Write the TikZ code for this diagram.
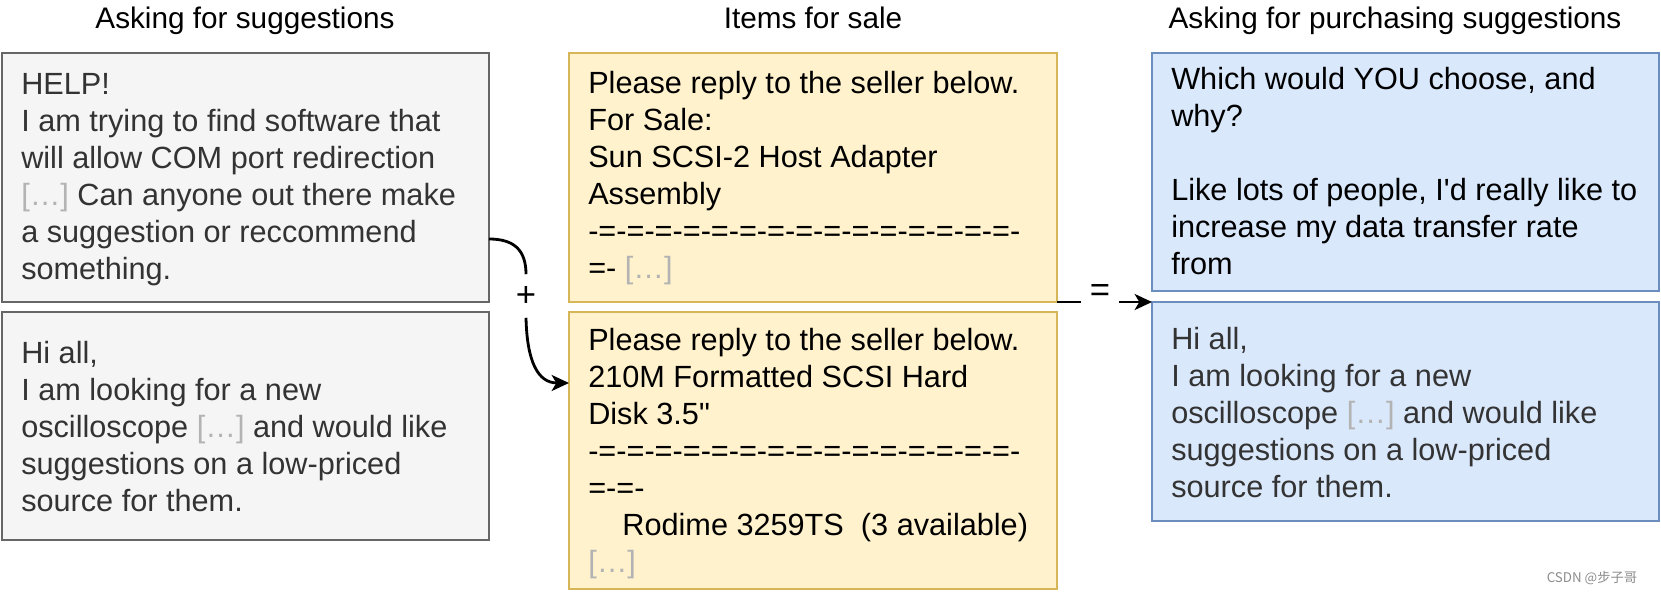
\documentclass[tikz,border=0pt]{standalone}
\usepackage{fontspec}
\newfontfamily\arial{Liberation Sans}
\newfontfamily\cjkfont{Noto Sans CJK SC}
\usetikzlibrary{arrows.meta,calc}
\definecolor{lfill}{HTML}{F5F5F5}
\definecolor{ldraw}{HTML}{666666}
\definecolor{mfill}{HTML}{FFF2CC}
\definecolor{mdraw}{HTML}{D6B656}
\definecolor{rfill}{HTML}{DAE8FC}
\definecolor{rdraw}{HTML}{6C8EBF}
\definecolor{tgray}{HTML}{333333}
\definecolor{ellgray}{HTML}{B3B3B3}
\newcommand{\elide}{\textcolor{ellgray}{[…]}}
\begin{document}
\begin{tikzpicture}[x=0.75pt,y=-0.75pt,
  box/.style={draw, line width=0.9pt, outer sep=0pt, inner sep=0pt, anchor=north west},
  lbox/.style={box, fill=lfill, draw=ldraw},
  mbox/.style={box, fill=mfill, draw=mdraw},
  rbox/.style={box, fill=rfill, draw=rdraw},
  txt/.style={anchor=base west, align=left, inner sep=0pt, font=\arial\fontsize{23}{27.75}\selectfont},
  ttl/.style={anchor=base, inner sep=0pt, font=\arial\fontsize{22.3}{26}\selectfont},
  sym/.style={inner sep=0pt, font=\arial\fontsize{26}{30}\selectfont},
  conn/.style={line width=2.1pt},
  arrowend/.style={-{Stealth[length=13pt,width=12pt,inset=3.5pt]}}
]
\useasboundingbox (0,0) rectangle (1661,595);

% titles
\node[ttl] (t1) at (245,29) {Asking for suggestions};
\node[ttl] (t2) at (813,29) {Items for sale};
\node[ttl] (t3) at (1395,29) {Asking for purchasing suggestions};

% boxes
\node[lbox, minimum width=365.25pt, minimum height=186.75pt] (l1) at (2,53) {};
\node[lbox, minimum width=365.25pt, minimum height=171pt] (l2) at (2,312) {};
\node[mbox, minimum width=366pt, minimum height=186.75pt] (m1) at (569,53) {};
\node[mbox, minimum width=366pt, minimum height=207.75pt] (m2) at (569,312) {};
\node[rbox, minimum width=380.25pt, minimum height=178.5pt] (r1) at (1152,53) {};
\node[rbox, minimum width=380.25pt, minimum height=164.25pt] (r2) at (1152,302) {};

% texts (anchored at the baseline of their last line)
\node[txt, text=tgray] (l1t) at (21,280) {HELP!\\I am trying to find software that\\will allow COM port redirection\\\elide{} Can anyone out there make\\a suggestion or reccommend\\something.};
\node[txt, text=tgray] (l2t) at (21,511) {Hi all,\\I am looking for a new\\oscilloscope \elide{} and would like\\suggestions on a low-priced\\source for them.};
\node[txt] (m1t) at (588,279) {Please reply to the seller below.\\For Sale:\\Sun SCSI-2 Host Adapter\\Assembly\\-=-=-=-=-=-=-=-=-=-=-=-=-=-=-=-\\=- \elide};
\node[txt] (m2t) at (588,572) {Please reply to the seller below.\\210M Formatted SCSI Hard\\Disk 3.5"\\-=-=-=-=-=-=-=-=-=-=-=-=-=-=-=-\\=-=-\\\hspace*{25.6pt}Rodime 3259TS\ \ (3 available)\\\elide};
\node[txt] (r1t) at (1171,275) {Which would YOU choose, and\\why?\\\mbox{}\\Like lots of people, I'd really like to\\increase my data transfer rate\\from};
\node[txt, text=tgray] (r2t) at (1171,497) {Hi all,\\I am looking for a new\\oscilloscope \elide{} and would like\\suggestions on a low-priced\\source for them.};

% connector "+"
\node[sym, minimum height=32.25pt] (plus) at (526,296) {+};
\coordinate (s1) at ($(l1.south east)+(0,-63)$);
\coordinate (e1) at ($(m2.north west)+(0,71)$);
\draw[conn] (s1) .. controls (514,239) and (526,250) .. (plus.north);
\draw[conn, arrowend] (plus.south) .. controls (527,362) and (538,383) .. (e1);

% connector "="
\node[sym, minimum width=28.5pt] (eq) at (1100,293) {=};
\draw[conn] (m1.south east) -- (eq.west |- m1.south east);
\draw[conn, arrowend] (eq.east |- r2.north west) -- (r2.north west);

% watermark
\node[inner sep=0pt, text=black!45, font=\cjkfont\fontsize{10}{12}\selectfont] (wm) at (1592,578) {CSDN @步子哥};
\end{tikzpicture}
\end{document}
